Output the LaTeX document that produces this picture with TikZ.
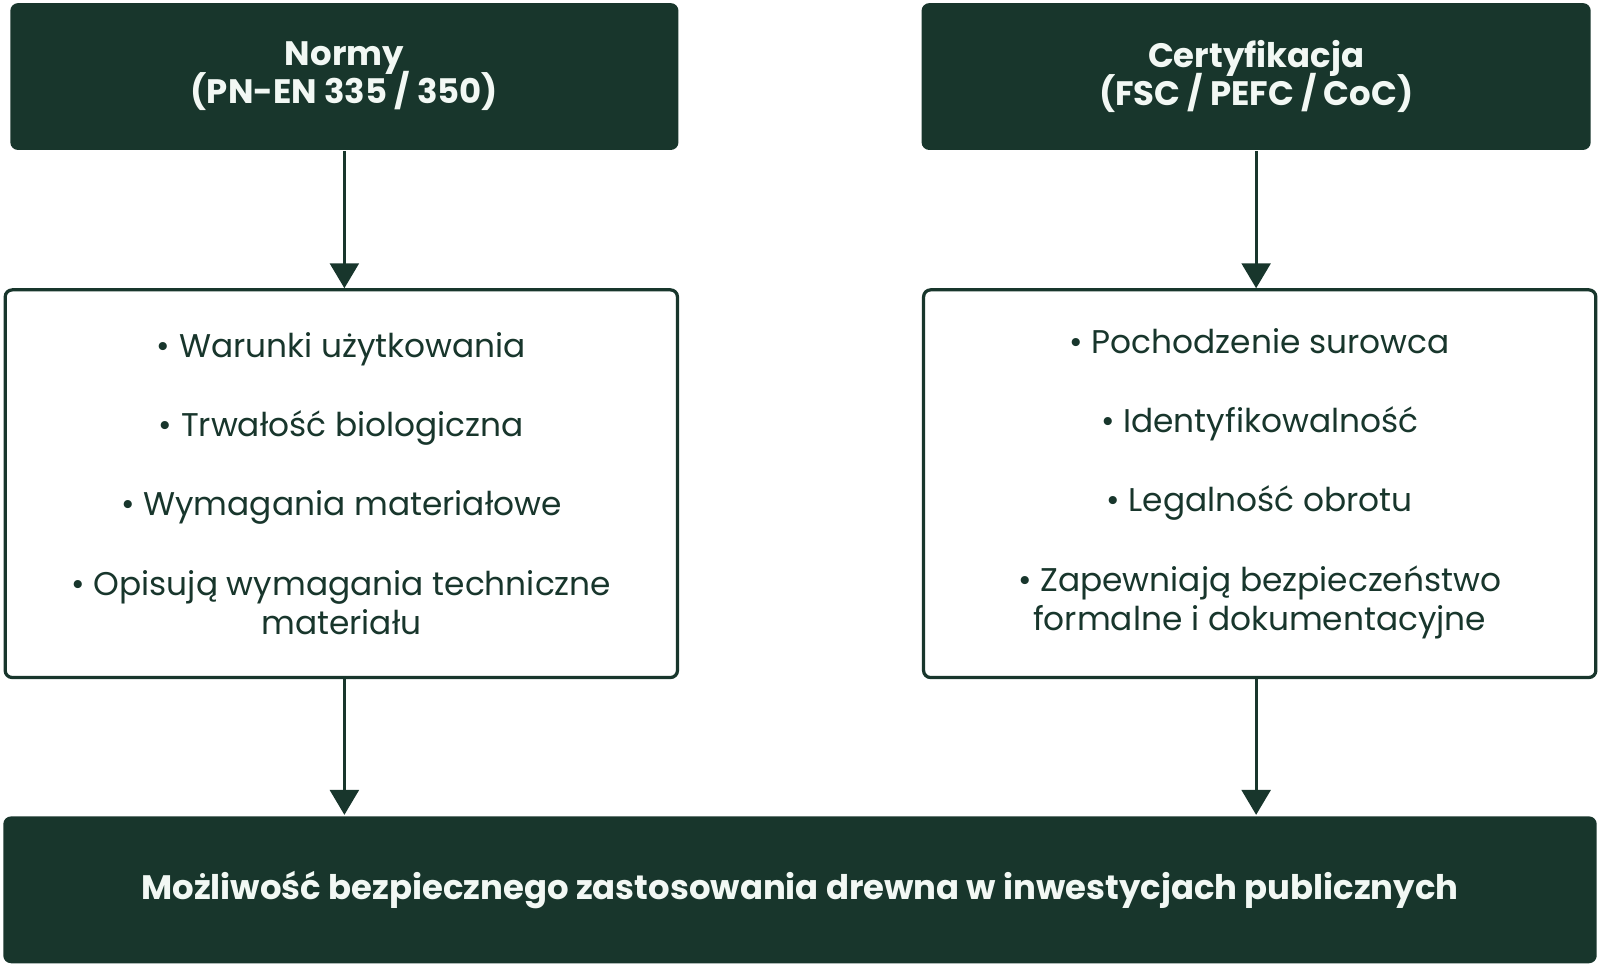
\documentclass[tikz,border=0pt]{standalone}
\usepackage{fontspec}
\setmainfont{Poppins}
\usetikzlibrary{arrows.meta}
\definecolor{forest}{HTML}{18362C}
\definecolor{paper}{HTML}{F2F8F4}
\newcommand{\tightlines}{\lineskiplimit=-20pt\relax}

\begin{document}
\begin{tikzpicture}[
            x = 0.010204cm, y = -0.010204cm, % grid of the reference
            > = {Triangle[width=8.2pt, length=7.1pt]}, % arrow head style
            line width = 0.87pt,
            forest
        ]

        \tikzstyle{every node}=[
            font = \fontsize{9.34pt}{11.29pt}\selectfont\tightlines,
            align = center
        ]
        \tikzstyle{headbox}=[
            fill = forest,
            text = paper,
            font = \fontsize{9.65pt}{10.8pt}\selectfont\bfseries\tightlines,
            rounded corners = 2.2pt,
            minimum height = 1.469cm
        ]
        \tikzstyle{listbox}=[
            draw = forest,
            fill = white,
            text = forest,
            line width = 0.92pt,
            rounded corners = 2pt,
            minimum width = 6.725cm,
            minimum height = 3.878cm
        ]

        \useasboundingbox (0,0) rectangle (1568,945);

        \node[headbox, minimum width=6.684cm] (normy) at (337.5,75) {Normy\\(PN-EN 335 / 350)};
        \node[headbox, minimum width=6.694cm] (cert) at (1231,75) {Certyfikacja\\(FSC / PEFC / CoC)};

        \node[listbox] (normyList) at (334.5,474) {%
            • Warunki użytkowania\\[11.29pt]
            • Trwałość biologiczna\\[11.29pt]
            • Wymagania materiałowe\\[11.29pt]
            • Opisują wymagania techniczne\\materiału};
        \node[listbox] (certList) at (1234.5,474) {%
            • Pochodzenie surowca\\[11.29pt]
            • Identyfikowalność\\[11.29pt]
            • Legalność obrotu\\[11.29pt]
            • Zapewniają bezpieczeństwo\\formalne i dokumentacyjne};

        \node[headbox, minimum width=15.94cm] (result) at (784,872)
            {Możliwość bezpiecznego zastosowania drewna w inwestycjach publicznych};

	\draw[->] (normy.south) -- (normy.south |- normyList.north);
	\draw[->] (cert.south) -- (cert.south |- certList.north);
	\draw[->] (normy.south |- normyList.south) -- (normy.south |- result.north);
	\draw[->] (cert.south |- certList.south) -- (cert.south |- result.north);
    \end{tikzpicture}
\end{document}
